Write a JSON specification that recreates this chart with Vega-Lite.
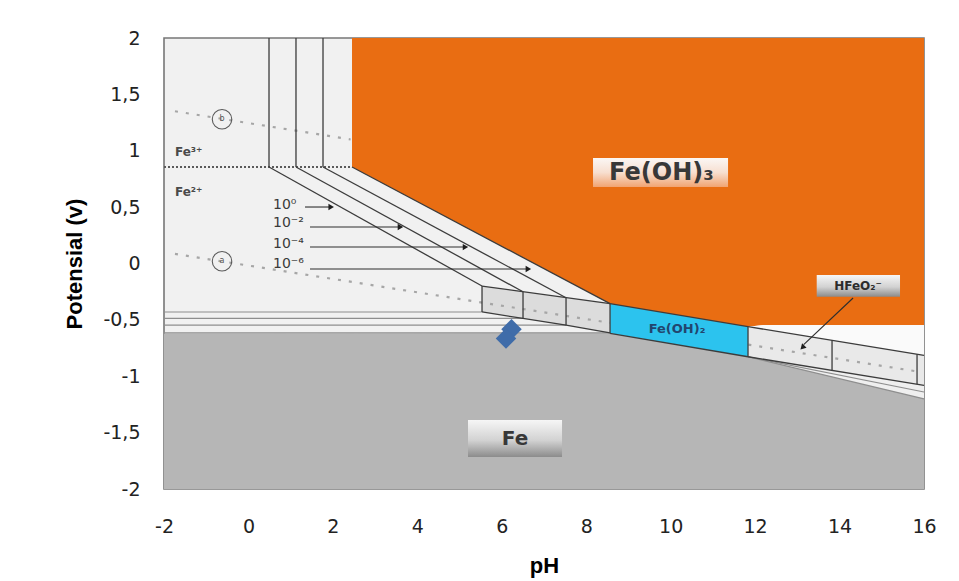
{
  "$schema": "https://vega.github.io/schema/vega-lite/v6.json",
  "description": "Pourbaix (potential-pH) diagram of iron with measured points",
  "width": 760,
  "height": 451,
  "autosize": {"type": "none"},
  "padding": {"left": 164, "top": 38, "right": 35, "bottom": 92},
  "background": "#ffffff",
  "config": {
    "view": {"fill": "#f1f1f1", "stroke": "#777777", "strokeWidth": 1.6},
    "font": "Liberation Sans",
    "axis": {
      "domain": false, "ticks": false, "tickSize": 0, "grid": false,
      "labelFlush": false, "labelOverlap": false,
      "labelFont": "DejaVu Sans", "labelFontSize": 19, "labelColor": "#222222",
      "titleFont": "Liberation Sans", "titleFontSize": 22, "titleFontWeight": "bold", "titleColor": "#000000"
    }
  },
  "datasets": {
    "regions": [
      {"region": "Fe", "x": -2, "lo": -2, "hi": -0.62},
      {"region": "Fe", "x": 8.564, "lo": -2, "hi": -0.619},
      {"region": "Fe", "x": 11.832, "lo": -2, "hi": -0.827},
      {"region": "Fe", "x": 16, "lo": -2, "hi": -1.2},
      {"region": "Fe2+ boxes", "x": 5.532, "lo": -0.43, "hi": -0.2},
      {"region": "Fe2+ boxes", "x": 6.503, "lo": -0.487, "hi": -0.251},
      {"region": "Fe2+ boxes", "x": 7.522, "lo": -0.547, "hi": -0.304},
      {"region": "Fe2+ boxes", "x": 8.564, "lo": -0.615, "hi": -0.356},
      {"region": "Fe(OH)2", "x": 8.564, "lo": -0.619, "hi": -0.356},
      {"region": "Fe(OH)2", "x": 11.832, "lo": -0.827, "hi": -0.56},
      {"region": "Fe(OH)3", "x": 2.453, "lo": 0.856, "hi": 2},
      {"region": "Fe(OH)3", "x": 8.564, "lo": -0.356, "hi": 2},
      {"region": "Fe(OH)3", "x": 11.832, "lo": -0.56, "hi": 2},
      {"region": "Fe(OH)3", "x": 12.2, "lo": -0.545, "hi": 2},
      {"region": "Fe(OH)3", "x": 16, "lo": -0.545, "hi": 2},
      {"region": "gap", "x": 11.832, "lo": -0.56, "hi": -0.56},
      {"region": "gap", "x": 12.2, "lo": -0.582, "hi": -0.545},
      {"region": "gap", "x": 16, "lo": -0.814, "hi": -0.545},
      {"region": "HFeO2- boxes", "x": 11.832, "lo": -0.827, "hi": -0.56},
      {"region": "HFeO2- boxes", "x": 16, "lo": -1.081, "hi": -0.814},
      {"region": "fan", "x": 11.832, "lo": -0.827, "hi": -0.827},
      {"region": "fan", "x": 16, "lo": -1.2, "hi": -1.081}
    ],
    "segments": [
      {"kind": "dark", "x": 0.487, "y": 2, "x2": 0.487, "y2": 0.856},
      {"kind": "dark", "x": 1.126, "y": 2, "x2": 1.126, "y2": 0.856},
      {"kind": "dark", "x": 1.766, "y": 2, "x2": 1.766, "y2": 0.856},
      {"kind": "dark", "x": 0.487, "y": 0.856, "x2": 5.532, "y2": -0.2},
      {"kind": "dark", "x": 1.126, "y": 0.856, "x2": 6.503, "y2": -0.251},
      {"kind": "dark", "x": 1.766, "y": 0.856, "x2": 7.522, "y2": -0.304},
      {"kind": "dark", "x": 2.453, "y": 0.856, "x2": 8.564, "y2": -0.356},
      {"kind": "dark", "x": 5.532, "y": -0.2, "x2": 8.564, "y2": -0.356},
      {"kind": "dark", "x": 5.532, "y": -0.43, "x2": 6.503, "y2": -0.487},
      {"kind": "dark", "x": 6.503, "y": -0.487, "x2": 7.522, "y2": -0.547},
      {"kind": "dark", "x": 7.522, "y": -0.547, "x2": 8.564, "y2": -0.615},
      {"kind": "dark", "x": 5.532, "y": -0.2, "x2": 5.532, "y2": -0.43},
      {"kind": "dark", "x": 6.503, "y": -0.251, "x2": 6.503, "y2": -0.487},
      {"kind": "dark", "x": 7.522, "y": -0.304, "x2": 7.522, "y2": -0.547},
      {"kind": "dark", "x": 8.564, "y": -0.356, "x2": 8.564, "y2": -0.619},
      {"kind": "dark", "x": 8.564, "y": -0.356, "x2": 11.832, "y2": -0.56},
      {"kind": "dark", "x": 8.564, "y": -0.619, "x2": 11.832, "y2": -0.827},
      {"kind": "dark", "x": 11.832, "y": -0.56, "x2": 11.832, "y2": -0.827},
      {"kind": "dark", "x": 11.832, "y": -0.56, "x2": 16, "y2": -0.814},
      {"kind": "dark", "x": 11.832, "y": -0.827, "x2": 16, "y2": -1.081},
      {"kind": "dark", "x": 13.822, "y": -0.681, "x2": 13.822, "y2": -0.948},
      {"kind": "dark", "x": 15.835, "y": -0.804, "x2": 15.835, "y2": -1.071},
      {"kind": "light", "x": -2, "y": -0.43, "x2": 5.532, "y2": -0.43},
      {"kind": "light", "x": -2, "y": -0.487, "x2": 6.503, "y2": -0.487},
      {"kind": "light", "x": -2, "y": -0.547, "x2": 7.522, "y2": -0.547},
      {"kind": "light", "x": -2, "y": -0.615, "x2": 8.564, "y2": -0.615},
      {"kind": "light", "x": 11.832, "y": -0.827, "x2": 16, "y2": -1.14},
      {"kind": "light", "x": 11.832, "y": -0.827, "x2": 16, "y2": -1.2},
      {"kind": "arrow", "x": 1.34, "y": 0.501, "x2": 1.96, "y2": 0.501},
      {"kind": "arrow", "x": 1.458, "y": 0.324, "x2": 3.6, "y2": 0.324},
      {"kind": "arrow", "x": 1.458, "y": 0.146, "x2": 5.14, "y2": 0.146},
      {"kind": "arrow", "x": 1.458, "y": -0.049, "x2": 6.63, "y2": -0.049},
      {"kind": "arrow", "x": 14.32, "y": -0.306, "x2": 13.15, "y2": -0.72},
      {"kind": "redox", "x": -2, "y": 0.856, "x2": 2.453, "y2": 0.856},
      {"kind": "water", "x": -1.74, "y": 1.35, "x2": 2.42, "y2": 1.1},
      {"kind": "water", "x": -1.74, "y": 0.085, "x2": 8.56, "y2": -0.526},
      {"kind": "water", "x": 11.84, "y": -0.72, "x2": 15.9, "y2": -0.961}
    ],
    "tips": [
      {"x": 1.96, "y": 0.501},
      {"x": 3.6, "y": 0.324},
      {"x": 5.14, "y": 0.146},
      {"x": 6.63, "y": -0.049}
    ],
    "pointer": [
      {"x": 13.12, "y": -0.745}
    ],
    "rings": [
      {"letter": "b", "x": -0.626, "y": 1.28},
      {"letter": "a", "x": -0.626, "y": 0.02}
    ],
    "boxes": [
      {"box": "Fe(OH)3", "x": 8.161, "x2": 11.359, "y": 0.679, "y2": 0.936},
      {"box": "HFeO2", "x": 13.459, "x2": 15.432, "y": -0.294, "y2": -0.102},
      {"box": "Fe", "x": 5.2, "x2": 7.427, "y": -1.716, "y2": -1.388}
    ],
    "labels": [
      {"grp": "ion", "text": "Fe³⁺", "x": -1.74, "y": 0.989},
      {"grp": "ion", "text": "Fe²⁺", "x": -1.74, "y": 0.634},
      {"grp": "conc", "text": "10⁰", "x": 0.582, "y": 0.519},
      {"grp": "conc", "text": "10⁻²", "x": 0.582, "y": 0.359},
      {"grp": "conc", "text": "10⁻⁴", "x": 0.582, "y": 0.173},
      {"grp": "conc", "text": "10⁻⁶", "x": 0.582, "y": -0.004},
      {"grp": "big", "text": "Fe(OH)₃", "x": 9.78, "y": 0.8},
      {"grp": "fe", "text": "Fe", "x": 6.314, "y": -1.56},
      {"grp": "blue", "text": "Fe(OH)₂", "x": 10.15, "y": -0.585},
      {"grp": "small", "text": "HFeO₂⁻", "x": 14.437, "y": -0.2}
    ],
    "measured": [
      {"pH": 6.23, "E": -0.584},
      {"pH": 6.1, "E": -0.665}
    ]
  },
  "encoding": {
    "x": {
      "field": "x", "type": "quantitative",
      "scale": {"domain": [-2, 16], "nice": false, "zero": false},
      "axis": {
        "title": "pH",
        "values": [-2, 0, 2, 4, 6, 8, 10, 12, 14, 16],
        "labelExpr": "toString(datum.value)",
        "labelPadding": 28,
        "titleX": 380, "titleY": 76, "titleBaseline": "middle", "titleAlign": "center"
      }
    },
    "y": {
      "field": "y", "type": "quantitative",
      "scale": {"domain": [-2, 2], "nice": false, "zero": false},
      "axis": {
        "title": "Potensial (v)",
        "values": [-2, -1.5, -1, -0.5, 0, 0.5, 1, 1.5, 2],
        "labelExpr": "replace(toString(datum.value), '.', ',')",
        "labelPadding": 24,
        "titleX": -90, "titleY": 225.5, "titleAngle": 270, "titleBaseline": "middle", "titleAlign": "center"
      }
    }
  },
  "layer": [
    {
      "data": {"name": "regions"},
      "mark": {"type": "area", "interpolate": "linear", "strokeWidth": 0},
      "encoding": {
        "y": {"field": "lo", "type": "quantitative", "stack": null},
        "y2": {"field": "hi"},
        "color": {
          "field": "region", "type": "nominal", "legend": null,
          "scale": {
            "domain": ["Fe", "Fe2+ boxes", "Fe(OH)2", "Fe(OH)3", "gap", "HFeO2- boxes", "fan"],
            "range": ["#b6b6b6", "#dcdcdc", "#2cc3ee", "#e96d12", "#fafafa", "#e9e9e9", "#efefef"]
          }
        }
      }
    },
    {
      "data": {"name": "segments"},
      "transform": [{"filter": "datum.kind === 'water'"}],
      "mark": {"type": "rule", "color": "#a6a6a6", "strokeWidth": 2.2, "strokeDash": [3, 8]},
      "encoding": {"x2": {"field": "x2"}, "y2": {"field": "y2"}}
    },
    {
      "data": {"name": "segments"},
      "transform": [{"filter": "datum.kind === 'redox'"}],
      "mark": {"type": "rule", "color": "#5a5a5a", "strokeWidth": 1.8, "strokeDash": [2, 2]},
      "encoding": {"x2": {"field": "x2"}, "y2": {"field": "y2"}}
    },
    {
      "data": {"name": "segments"},
      "transform": [{"filter": "datum.kind === 'light'"}],
      "mark": {"type": "rule", "color": "#8e8e8e", "strokeWidth": 1.2},
      "encoding": {"x2": {"field": "x2"}, "y2": {"field": "y2"}}
    },
    {
      "data": {"name": "segments"},
      "transform": [{"filter": "datum.kind === 'dark'"}],
      "mark": {"type": "rule", "color": "#3c3c3c", "strokeWidth": 1.3},
      "encoding": {"x2": {"field": "x2"}, "y2": {"field": "y2"}}
    },
    {
      "data": {"name": "segments"},
      "transform": [{"filter": "datum.kind === 'arrow'"}],
      "mark": {"type": "rule", "color": "#2e2e2e", "strokeWidth": 1.1},
      "encoding": {"x2": {"field": "x2"}, "y2": {"field": "y2"}}
    },
    {
      "data": {"name": "tips"},
      "mark": {"type": "point", "shape": "triangle-right", "filled": true, "color": "#1e1e1e", "size": 40, "opacity": 1}
    },
    {
      "data": {"name": "pointer"},
      "mark": {"type": "point", "shape": "triangle-up", "angle": 225, "filled": true, "color": "#1e1e1e", "size": 40, "opacity": 1}
    },
    {
      "data": {"name": "rings"},
      "mark": {"type": "point", "shape": "circle", "filled": false, "color": "#5a5a5a", "strokeWidth": 1.1, "size": 380, "opacity": 1}
    },
    {
      "data": {"name": "rings"},
      "mark": {"type": "text", "font": "DejaVu Sans", "fontSize": 8, "color": "#555555", "align": "center", "baseline": "middle"},
      "encoding": {"text": {"field": "letter"}}
    },
    {
      "data": {"name": "boxes"},
      "transform": [{"filter": "datum.box === 'Fe(OH)3'"}],
      "mark": {
        "type": "rect",
        "fill": {"gradient": "linear", "x1": 0, "y1": 0, "x2": 0, "y2": 1,
          "stops": [{"offset": 0, "color": "#fbf7f5"}, {"offset": 0.5, "color": "#f7dfd0"}, {"offset": 1, "color": "#f1a472"}]}
      },
      "encoding": {"x2": {"field": "x2"}, "y2": {"field": "y2"}}
    },
    {
      "data": {"name": "boxes"},
      "transform": [{"filter": "datum.box !== 'Fe(OH)3'"}],
      "mark": {
        "type": "rect",
        "fill": {"gradient": "linear", "x1": 0, "y1": 0, "x2": 0, "y2": 1,
          "stops": [{"offset": 0, "color": "#f6f6f6"}, {"offset": 0.55, "color": "#d2d2d2"}, {"offset": 1, "color": "#8c8c8c"}]}
      },
      "encoding": {"x2": {"field": "x2"}, "y2": {"field": "y2"}}
    },
    {
      "data": {"name": "labels"},
      "transform": [{"filter": "datum.grp === 'ion'"}],
      "mark": {"type": "text", "font": "DejaVu Sans", "fontSize": 12, "fontWeight": "bold", "color": "#4a4a4a", "align": "left", "baseline": "middle"},
      "encoding": {"text": {"field": "text"}}
    },
    {
      "data": {"name": "labels"},
      "transform": [{"filter": "datum.grp === 'conc'"}],
      "mark": {"type": "text", "font": "DejaVu Sans", "fontSize": 14, "color": "#3a3a3a", "align": "left", "baseline": "middle"},
      "encoding": {"text": {"field": "text"}}
    },
    {
      "data": {"name": "labels"},
      "transform": [{"filter": "datum.grp === 'big'"}],
      "mark": {"type": "text", "font": "DejaVu Sans", "fontSize": 24, "fontWeight": "bold", "color": "#383838", "align": "center", "baseline": "middle"},
      "encoding": {"text": {"field": "text"}}
    },
    {
      "data": {"name": "labels"},
      "transform": [{"filter": "datum.grp === 'fe'"}],
      "mark": {"type": "text", "font": "DejaVu Sans", "fontSize": 20, "fontWeight": "bold", "color": "#383838", "align": "center", "baseline": "middle"},
      "encoding": {"text": {"field": "text"}}
    },
    {
      "data": {"name": "labels"},
      "transform": [{"filter": "datum.grp === 'blue'"}],
      "mark": {"type": "text", "font": "DejaVu Sans", "fontSize": 13, "fontWeight": "bold", "color": "#22466e", "align": "center", "baseline": "middle"},
      "encoding": {"text": {"field": "text"}}
    },
    {
      "data": {"name": "labels"},
      "transform": [{"filter": "datum.grp === 'small'"}],
      "mark": {"type": "text", "font": "DejaVu Sans", "fontSize": 12, "fontWeight": "bold", "color": "#2c2c2c", "align": "center", "baseline": "middle"},
      "encoding": {"text": {"field": "text"}}
    },
    {
      "data": {"name": "measured"},
      "mark": {"type": "point", "shape": "diamond", "filled": true, "color": "#3f6ca9", "size": 420, "opacity": 1, "strokeWidth": 0},
      "encoding": {
        "x": {"field": "pH", "type": "quantitative"},
        "y": {"field": "E", "type": "quantitative"}
      }
    }
  ]
}
